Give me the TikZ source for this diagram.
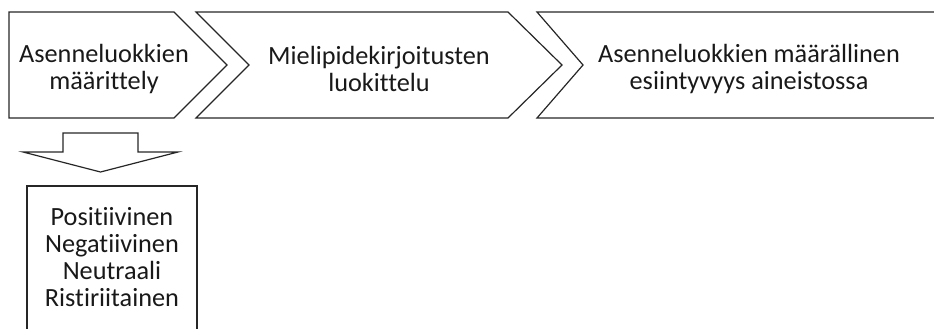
\documentclass[tikz,border=0pt]{standalone}
\usepackage{fontspec}
\setmainfont{Carlito}[RawFeature={-liga;-clig;-dlig}]
\begin{document}
\begin{tikzpicture}[x=0.75pt,y=-0.75pt,
  shapeline/.style={draw=black!85,line width=0.9pt,line join=miter},
  lbl/.style={align=center,font=\fontsize{19.7}{20.2}\selectfont,text=black!90,inner sep=0pt}]
\useasboundingbox (0,0) rectangle (934,328);
\clip (0,0) rectangle (934,328);
% chevrons
\draw[shapeline] (9,12) -- (174,12) -- (227,65) -- (174,118) -- (9,118) -- cycle;
\draw[shapeline] (196,12) -- (508,12) -- (562,65) -- (508,118) -- (196,118) -- (249,65) -- cycle;
\draw[shapeline] (945,12) -- (537,12) -- (583,65) -- (537,118) -- (945,118);
\node[lbl] (c1) at (104,69) {Asenneluokkien\\määrittely};
\node[lbl] (c2) at (379,69) {Mielipidekirjoitusten\\luokittelu};
\node[lbl] (c3) at (749,69) {Asenneluokkien määrällinen\\esiintyvyys aineistossa\hspace{18pt}};
% down arrow
\draw[shapeline] (63,133) -- (138,133) -- (138,152) -- (178,152) -- (100.5,172) -- (23,152) -- (63,152) -- cycle;
% box
\draw[shapeline] (27,186) rectangle (197,340);
\node[lbl] (lst) at (112,257) {Positiivinen\\Negatiivinen\\Neutraali\\Ristiriitainen};
\end{tikzpicture}
\end{document}
